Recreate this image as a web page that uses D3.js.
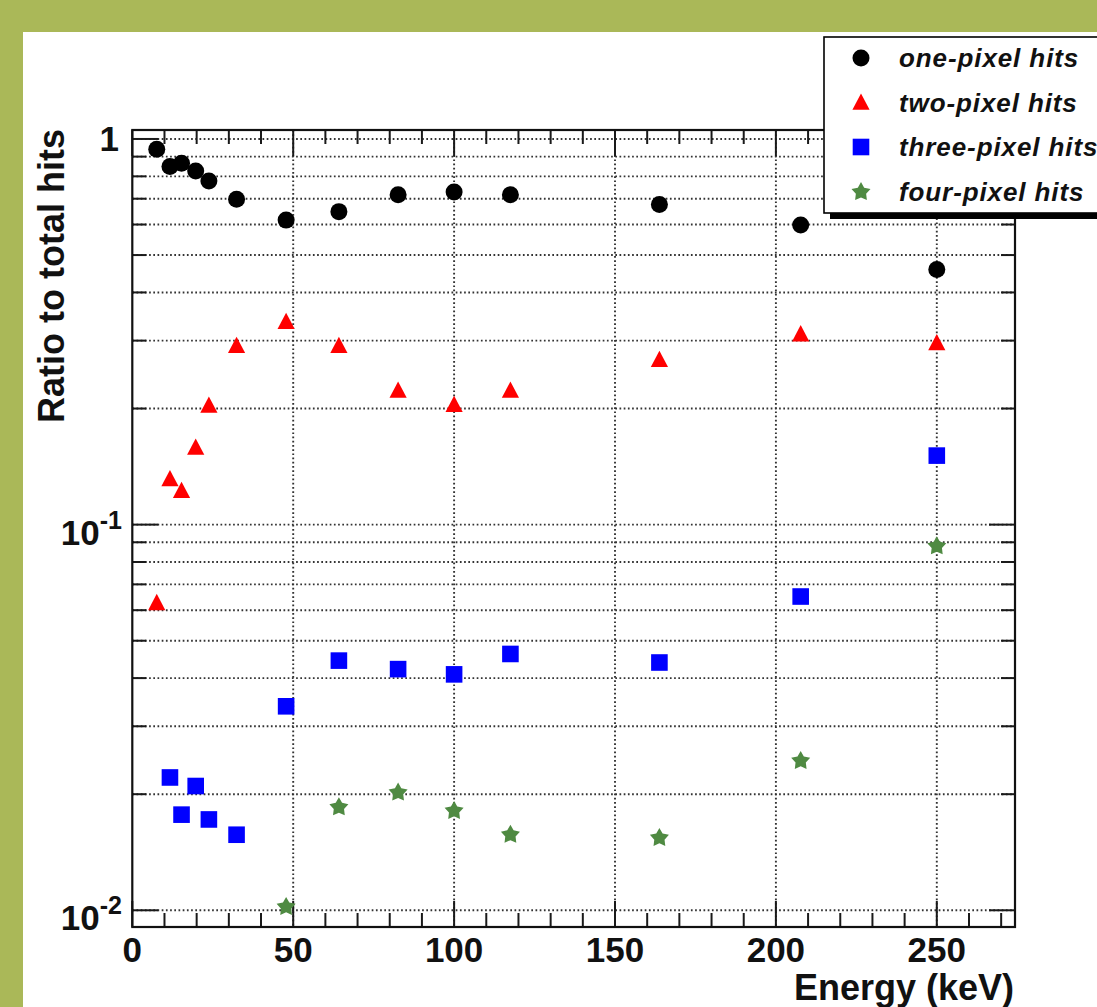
<!DOCTYPE html>
<html><head><meta charset="utf-8">
<script src="https://cdn.jsdelivr.net/npm/d3@7"></script>
<style>html,body{margin:0;padding:0;background:#fff;} svg{display:block;}</style>
</head><body>
<svg id="chart" width="1097" height="1007"></svg>
<script>
// ---- data ----
const energies   = [7.6, 11.7, 15.3, 19.7, 23.8, 32.4, 47.8, 64.2, 82.6, 100, 117.5, 163.8, 207.7, 250];
const onePixel   = [0.94, 0.848, 0.865, 0.826, 0.778, 0.698, 0.616, 0.648, 0.717, 0.729, 0.717, 0.676, 0.598, 0.459];
const twoPixel   = [0.0625, 0.131, 0.122, 0.158, 0.203, 0.290, 0.335, 0.290, 0.222, 0.204, 0.222, 0.267, 0.311, 0.295];
const threePixel = [null, 0.0221, 0.0177, 0.0210, 0.0172, 0.0157, 0.0338, 0.0444, 0.0422, 0.0409, 0.0462, 0.0439, 0.0651, 0.151];
const fourPixel  = [null, null, null, null, null, null, 0.0102, 0.0185, 0.0202, 0.0181, 0.0157, 0.0154, 0.0244, 0.0879];
const seriesNames = ["one-pixel hits", "two-pixel hits", "three-pixel hits", "four-pixel hits"];
const xTickValues = [0, 50, 100, 150, 200, 250];
const xTickLabels = ["0", "50", "100", "150", "200", "250"];
const yMajorValues = [1, 0.1, 0.01];
const yTickBase = ["1", "10", "10"];
const yTickExp  = ["", "-1", "-2"];
const xTitle = "Energy (keV)";
const yTitle = "Ratio to total hits";

// ---- layout ----
const W = 1097, H = 1007;
const L = 132.3, R = 1015, T = 130, B = 927;
const FONT = "'Liberation Sans', Arial, Helvetica, sans-serif";
const svg = d3.select("#chart");

svg.append("rect").attr("width", W).attr("height", H).attr("fill", "#aab858");
svg.append("rect").attr("x", 23).attr("y", 32).attr("width", W - 23).attr("height", H - 32).attr("fill", "#fff");

const x = d3.scaleLinear().domain([0, 274.3]).range([L, R]);
const y = d3.scaleLog().domain([0.00905, 1.055]).range([B, T]);

// minor/major tick value lists
const yAll = [];
[0.01, 0.1].forEach(d => { for (let k = 1; k <= 9; k++) yAll.push(+(d * k).toPrecision(3)); });
yAll.push(1);
const xMinor = d3.range(10, 275, 10).filter(v => v % 50 !== 0);

// grid
const grid = svg.append("g").attr("stroke", "#333").attr("stroke-width", 1.9).attr("stroke-dasharray", "1.7,2.5");
grid.selectAll("line.h").data(yAll).join("line").attr("class", "h")
  .attr("x1", L).attr("x2", R).attr("y1", d => y(d)).attr("y2", d => y(d));
grid.selectAll("line.v").data(xTickValues.filter(v => v > 0)).join("line").attr("class", "v")
  .attr("x1", d => x(d)).attr("x2", d => x(d)).attr("y1", T).attr("y2", B);

// ticks
const ticks = svg.append("g").attr("stroke", "#1a1a1a").attr("stroke-width", 2);
const majLen = 26, minLen = 14;
xTickValues.forEach(v => {
  ticks.append("line").attr("x1", x(v)).attr("x2", x(v)).attr("y1", B).attr("y2", B - majLen);
  ticks.append("line").attr("x1", x(v)).attr("x2", x(v)).attr("y1", T).attr("y2", T + majLen);
});
xMinor.forEach(v => {
  ticks.append("line").attr("x1", x(v)).attr("x2", x(v)).attr("y1", B).attr("y2", B - minLen);
  ticks.append("line").attr("x1", x(v)).attr("x2", x(v)).attr("y1", T).attr("y2", T + minLen);
});
yAll.forEach(v => {
  const len = yMajorValues.includes(v) ? majLen : minLen;
  ticks.append("line").attr("x1", L).attr("x2", L + len).attr("y1", y(v)).attr("y2", y(v));
  ticks.append("line").attr("x1", R).attr("x2", R - len).attr("y1", y(v)).attr("y2", y(v));
});

// frame
svg.append("rect").attr("x", L).attr("y", T).attr("width", R - L).attr("height", B - T)
  .attr("fill", "none").attr("stroke", "#111").attr("stroke-width", 2.2);

// tick labels
svg.append("g").selectAll("text").data(xTickValues).join("text")
  .attr("x", d => x(d)).attr("y", 962).attr("text-anchor", "middle")
  .attr("font-family", FONT).attr("font-weight", "bold").attr("font-size", 35).attr("fill", "#111")
  .text((d, i) => xTickLabels[i]);

yMajorValues.forEach((v, i) => {
  if (yTickExp[i] === "") {
    svg.append("text").attr("x", 119).attr("y", y(v) + 12).attr("text-anchor", "end")
      .attr("font-family", FONT).attr("font-weight", "bold").attr("font-size", 35).attr("fill", "#111")
      .text(yTickBase[i]);
  } else {
    const t = svg.append("text").attr("x", 122).attr("y", y(v) + 20).attr("text-anchor", "end")
      .attr("font-family", FONT).attr("font-weight", "bold").attr("font-size", 35).attr("fill", "#111");
    t.append("tspan").text(yTickBase[i]);
    t.append("tspan").attr("font-size", 25).attr("dy", -16).text(yTickExp[i]);
  }
});

// axis titles
svg.append("text").attr("x", 1014).attr("y", 1000).attr("text-anchor", "end")
  .attr("font-family", FONT).attr("font-weight", "bold").attr("font-size", 36).attr("fill", "#111")
  .text(xTitle);
svg.append("text").attr("transform", "translate(64,129) rotate(-90)").attr("text-anchor", "end")
  .attr("font-family", FONT).attr("font-weight", "bold").attr("font-size", 36).attr("fill", "#111")
  .text(yTitle);

// marker shapes
function triPath(s) { return `M0,${-9.5*s}L${8.6*s},${6.8*s}L${-8.6*s},${6.8*s}Z`; }
function starPath(s) {
  const pts = [];
  for (let k = 0; k < 10; k++) {
    const r = (k % 2 === 0 ? 10 : 5.4) * s;
    const a = -Math.PI / 2 + k * Math.PI / 5;
    pts.push([r * Math.cos(a), r * Math.sin(a)]);
  }
  return "M" + pts.map(p => p[0].toFixed(2) + "," + p[1].toFixed(2)).join("L") + "Z";
}
const styles = [
  { data: onePixel,   color: "#000000", draw: (g) => g.append("circle").attr("r", 8.5) },
  { data: twoPixel,   color: "#ff0000", draw: (g) => g.append("path").attr("d", triPath(1)) },
  { data: threePixel, color: "#0000ff", draw: (g) => g.append("rect").attr("x", -8.3).attr("y", -8.3).attr("width", 16.6).attr("height", 16.6) },
  { data: fourPixel,  color: "#4f8a42", draw: (g) => g.append("path").attr("d", starPath(1)) }
];

styles.forEach(s => {
  const pts = energies.map((e, i) => ({ e, v: s.data[i] })).filter(d => d.v != null);
  const g = svg.append("g").attr("fill", s.color);
  pts.forEach(d => {
    const m = g.append("g").attr("transform", `translate(${x(d.e)},${y(d.v)})`);
    s.draw(m);
  });
});

// legend
const LX = 824, LY = 37, LW = 300, LH = 176;
svg.append("rect").attr("x", LX + 6).attr("y", LY + 6).attr("width", LW).attr("height", LH).attr("fill", "#000");
svg.append("rect").attr("x", LX).attr("y", LY).attr("width", LW).attr("height", LH)
  .attr("fill", "#fff").attr("stroke", "#000").attr("stroke-width", 1.6);
const rowY = [58, 103, 147, 192];
seriesNames.forEach((name, i) => {
  const m = svg.append("g").attr("fill", styles[i].color).attr("transform", `translate(861,${rowY[i]})`);
  styles[i].draw(m);
  svg.append("text").attr("x", 899).attr("y", rowY[i] + 9)
    .attr("font-family", FONT).attr("font-weight", "bold").attr("font-style", "italic")
    .attr("font-size", 26).attr("letter-spacing", 0.9).attr("fill", "#111").text(name);
});
</script>
</body></html>
